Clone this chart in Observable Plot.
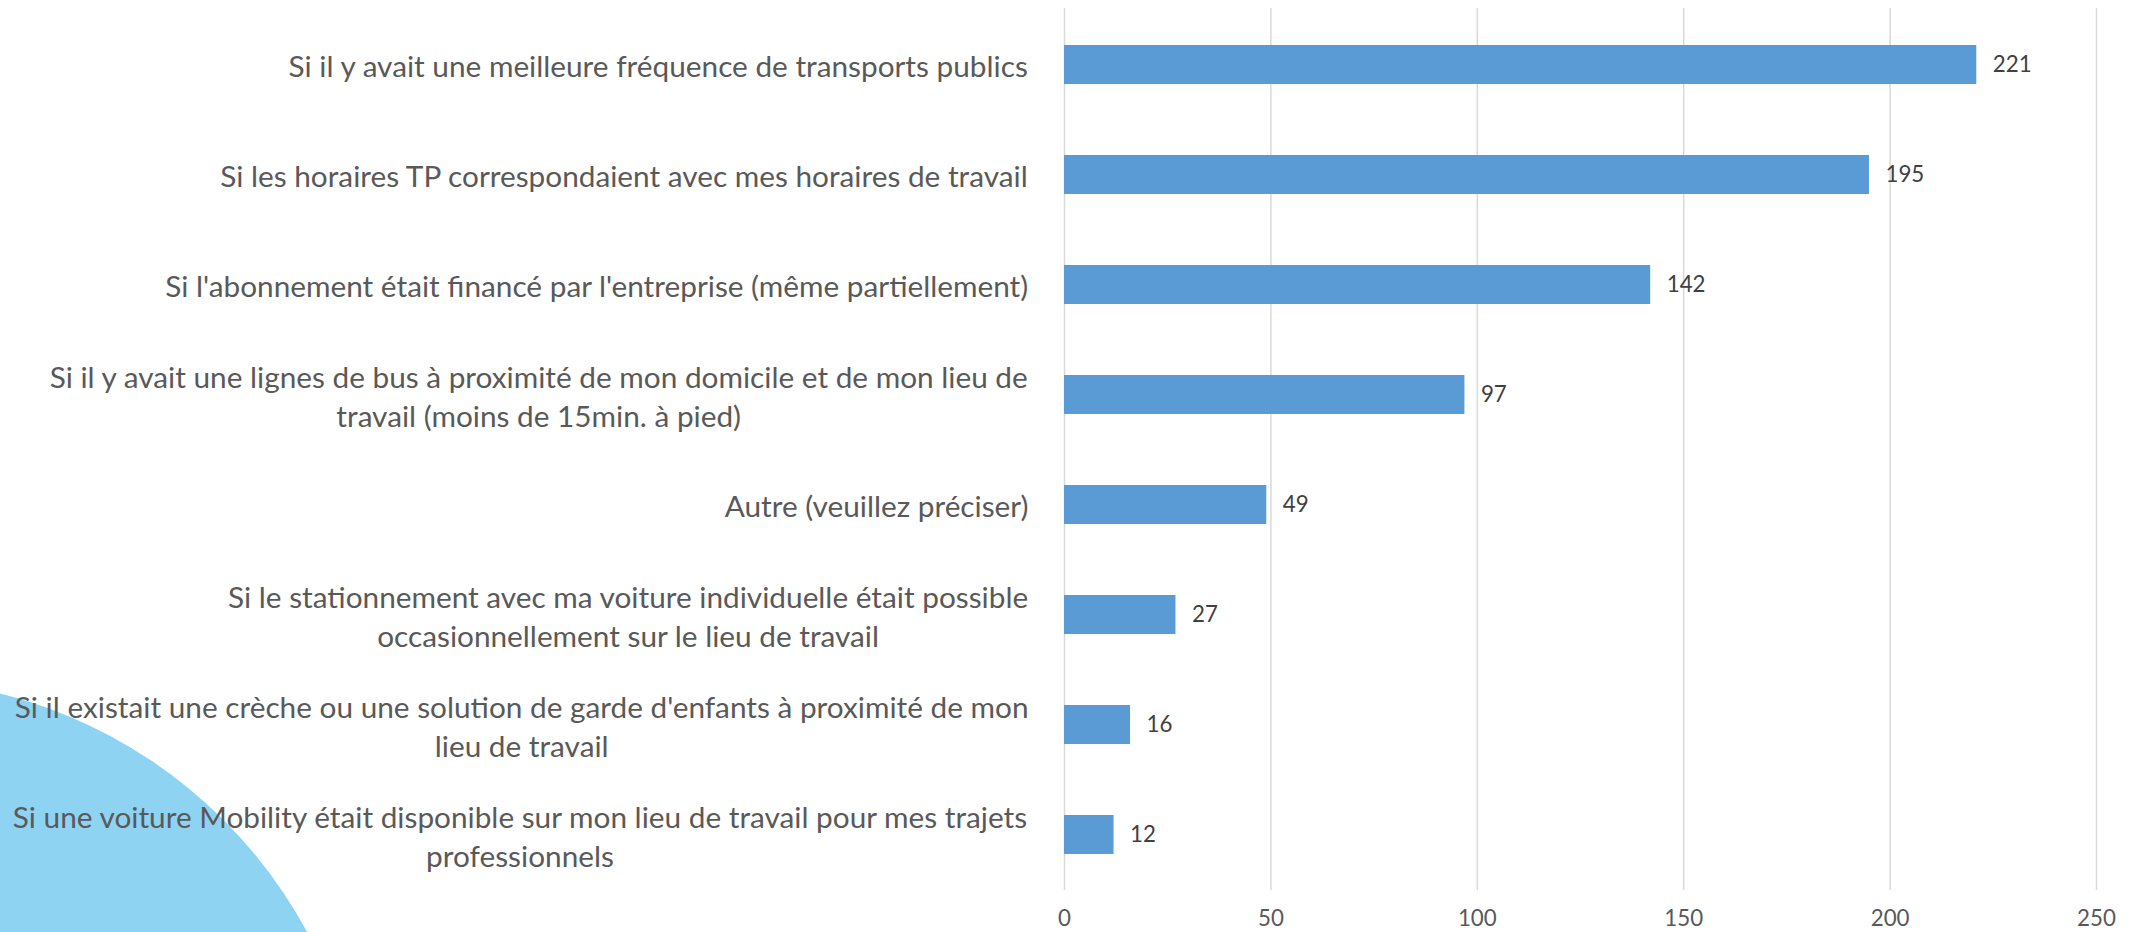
<!DOCTYPE html>
<html><head><meta charset="utf-8">
<script src="https://cdn.jsdelivr.net/npm/d3@7"></script>
<script src="https://cdn.jsdelivr.net/npm/@observablehq/plot@0.6"></script>
<style>
html,body{margin:0;padding:0;background:#fff;overflow:hidden}
#wrap{position:relative;width:2131px;height:932px;overflow:hidden;background:#fff}
#deco{position:absolute;left:-599px;top:679px;width:964px;height:964px;border-radius:50%;background:#8fd3f2;z-index:0}
#chart{position:absolute;left:0;top:0;z-index:1}
</style></head><body>
<div id="wrap"><div id="deco"></div><div id="chart"></div></div>
<script>
const categories = [
  "Si il y avait une meilleure fréquence de transports publics",
  "Si les horaires TP correspondaient avec mes horaires de travail",
  "Si l'abonnement était financé par l'entreprise (même partiellement)",
  "Si il y avait une lignes de bus à proximité de mon domicile et de mon lieu de\ntravail (moins de 15min. à pied)",
  "Autre (veuillez préciser)",
  "Si le stationnement avec ma voiture individuelle était possible\noccasionnellement sur le lieu de travail",
  "Si il existait une crèche ou une solution de garde d'enfants à proximité de mon\nlieu de travail",
  "Si une voiture Mobility était disponible sur mon lieu de travail pour mes trajets\nprofessionnels"
];
const values = [221, 195, 142, 97, 49, 27, 16, 12];
const xTicks = [0, 50, 100, 150, 200, 250];

const FONT = "Lato, 'Open Sans', sans-serif";
const ctx = document.createElement("canvas").getContext("2d");
function measure(s, size) { ctx.font = `${size}px ${FONT}`; return ctx.measureText(s).width; }
const labelSize = 100 * 741 / measure(categories[0], 100);
const smallSize = labelSize * 24 / 32;
const rows = categories.map((label, i) => ({label, value: values[i]}));
const gap = 36;

const labelMarks = categories.map((c, i) => {
  const w = d3.max(c.split("\n"), l => measure(l, labelSize));
  return Plot.text([rows[i]], {
    y: "label", text: "label", frameAnchor: "left", textAnchor: "middle",
    dx: -(gap + w / 2), fontSize: labelSize, lineHeight: 39 / labelSize, fill: "#595959"
  });
});

const chart = Plot.plot({
  width: 2131, height: 932,
  marginLeft: 1064, marginRight: 35, marginTop: 8, marginBottom: 42,
  style: {fontFamily: FONT, background: "transparent", overflow: "visible"},
  x: {domain: [0, 250]},
  y: {type: "band", domain: categories, paddingInner: 0.649, paddingOuter: 0.3245, axis: null},
  marks: [
    Plot.ruleX(xTicks, {stroke: "#d9d9d9", strokeWidth: 1.5}),
    Plot.barX(rows, {x: "value", y: "label", fill: "#5b9bd5"}),
    Plot.text(rows, {x: "value", y: "label", text: d => String(d.value), textAnchor: "start", dx: 16, fontSize: smallSize, fill: "#404040"}),
    Plot.axisX(xTicks, {tickSize: 0, tickPadding: 20, fontSize: smallSize, color: "#595959", label: null}),
    ...labelMarks
  ]
});
document.getElementById("chart").appendChild(chart);
</script>
</body></html>
